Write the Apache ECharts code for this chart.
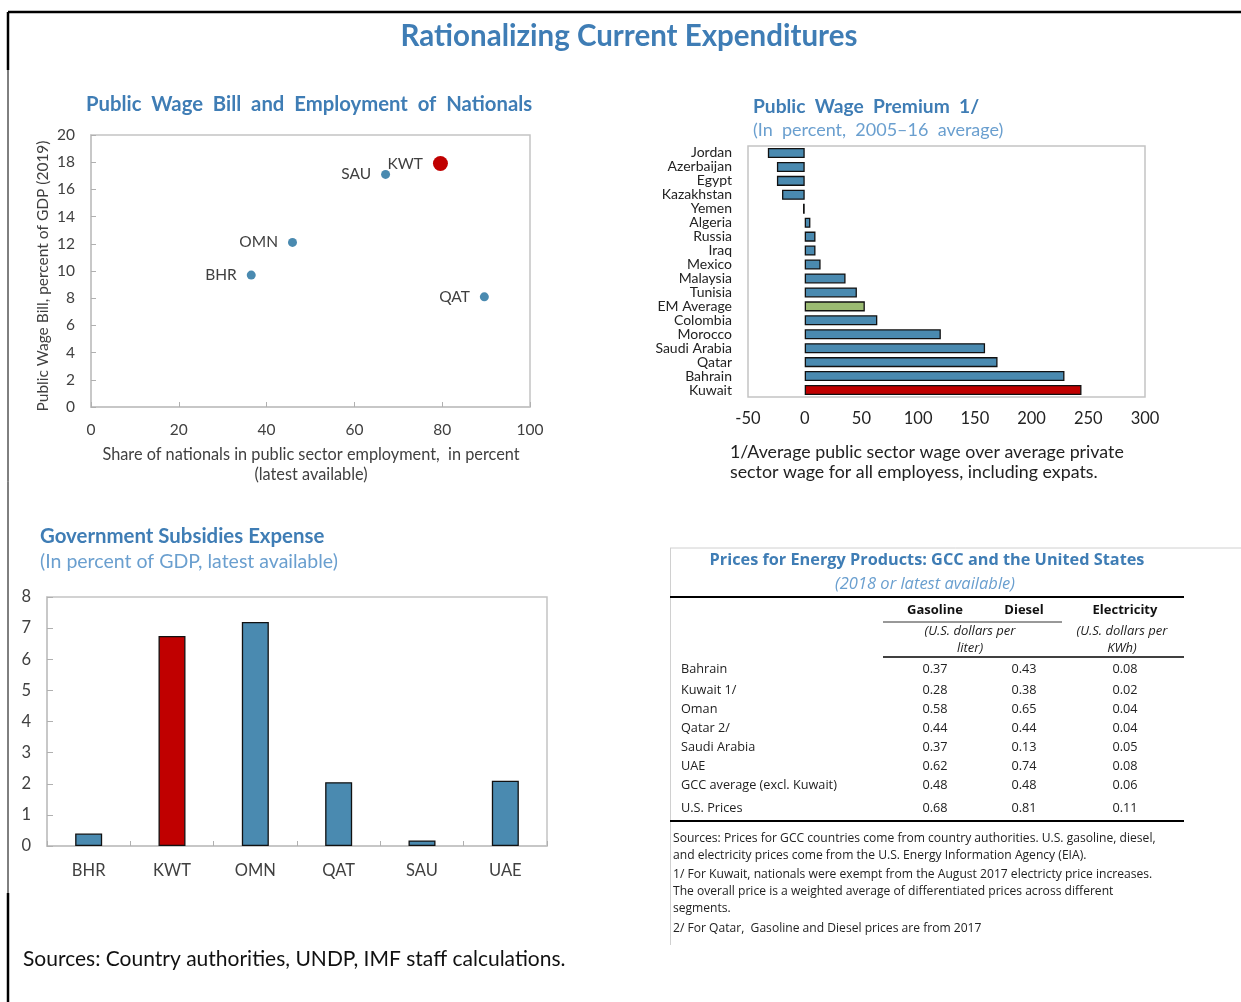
<!DOCTYPE html>
<html><head><meta charset="utf-8">
<script src="https://cdn.jsdelivr.net/npm/echarts@6/dist/echarts.min.js"></script>
<style>html,body{margin:0;padding:0;background:#fff}#c{width:1241px;height:1002px}</style>
</head><body><div id="c"></div>
<script>
// ---- Data ----
const scatterNames = ['SAU', 'KWT', 'OMN', 'BHR', 'QAT'];
const scatterX = [67.1, 79.6, 45.9, 36.5, 89.6];
const scatterY = [17.1, 17.9, 12.1, 9.7, 8.1];
const scatterXTicks = [0, 20, 40, 60, 80, 100];
const scatterYTicks = [0, 2, 4, 6, 8, 10, 12, 14, 16, 18, 20];

const premiumCountries = ['Jordan', 'Azerbaijan', 'Egypt', 'Kazakhstan', 'Yemen', 'Algeria', 'Russia', 'Iraq', 'Mexico', 'Malaysia', 'Tunisia', 'EM Average', 'Colombia', 'Morocco', 'Saudi Arabia', 'Qatar', 'Bahrain', 'Kuwait'];
const premiumValues = [-32.5, -24.5, -24.5, -20, -1.5, 5, 9.5, 9.5, 14, 36, 46, 53, 64, 120, 159, 170, 229, 244];
const premiumTicks = [-50, 0, 50, 100, 150, 200, 250, 300];

const subsidyCountries = ['BHR', 'KWT', 'OMN', 'QAT', 'SAU', 'UAE'];
const subsidyValues = [0.4, 6.75, 7.2, 2.05, 0.18, 2.1];
const subsidyTicks = [0, 1, 2, 3, 4, 5, 6, 7, 8];

const tableRowLabels = ['Bahrain', 'Kuwait 1/', 'Oman', 'Qatar 2/', 'Saudi Arabia', 'UAE', 'GCC average (excl. Kuwait)', 'U.S. Prices'];
const gasoline = ['0.37', '0.28', '0.58', '0.44', '0.37', '0.62', '0.48', '0.68'];
const diesel = ['0.43', '0.38', '0.65', '0.44', '0.13', '0.74', '0.48', '0.81'];
const electricity = ['0.08', '0.02', '0.04', '0.04', '0.05', '0.08', '0.06', '0.11'];
const tableHeaders = ['Gasoline', 'Diesel', 'Electricity'];
const tableNotes = [
  'Sources: Prices for GCC countries come from country authorities. U.S. gasoline, diesel,',
  'and electricity prices come from the U.S. Energy Information Agency (EIA).',
  '1/ For Kuwait, nationals were exempt from the August 2017 electricty price increases.',
  'The overall price is a weighted average of differentiated prices across different',
  'segments.',
  '2/ For Qatar,  Gasoline and Diesel prices are from 2017'
];

// ---- Styles ----
const BLUE = '#4a8ab0', RED = '#c00000', GREEN = '#9bbb72';
const TITLE = '#3f7db5', SUB = '#6a9fcf', TXT = '#404040';
const F = 'Lato, "Open Sans", sans-serif';
const TF = '"Open Sans", "Noto Sans", sans-serif';

const chart = echarts.init(document.getElementById('c'));

function txt(x, y, s, o) {
  return { type: 'text', x: x, y: y, style: Object.assign({ text: s, fill: TXT, font: '13px ' + F, textAlign: 'left', textVerticalAlign: 'middle' }, o || {}) };
}
function ln(x1, y1, x2, y2, w, c) {
  return { type: 'line', shape: { x1: x1, y1: y1, x2: x2, y2: y2 }, style: { stroke: c || '#000', lineWidth: w || 1 } };
}

const graphics = [];
// frame
graphics.push(ln(8, 12, 1241, 12, 2.5));
graphics.push(ln(8, 12, 8, 70, 2.5));
graphics.push(ln(8, 70, 8, 893, 1));
graphics.push(ln(8, 893, 8, 1002, 2.5));
// main title
graphics.push(txt(629, 36, 'Rationalizing Current Expenditures', { fill: TITLE, font: 'bold 29.5px ' + F, textAlign: 'center' }));
// panel titles
graphics.push(txt(86, 104, 'Public  Wage  Bill  and  Employment  of  Nationals', { fill: TITLE, font: 'bold 20.3px ' + F }));
graphics.push(txt(753, 107, 'Public  Wage  Premium  1/', { fill: TITLE, font: 'bold 19.2px ' + F }));
graphics.push(txt(753, 130, '(In  percent,  2005\u201316  average)', { fill: SUB, font: '18px ' + F }));
graphics.push(txt(40, 536, 'Government Subsidies Expense', { fill: TITLE, font: 'bold 20.4px ' + F }));
graphics.push(txt(40, 562, '(In percent of GDP, latest available)', { fill: SUB, font: '19.5px ' + F }));
// scatter axis names
graphics.push(txt(311, 455, 'Share of nationals in public sector employment,  in percent', { font: '16.3px ' + F, textAlign: 'center' }));
graphics.push(txt(311, 475, '(latest available)', { font: '16.3px ' + F, textAlign: 'center' }));
graphics.push({ type: 'text', x: 43, y: 276, rotation: Math.PI / 2, style: { text: 'Public Wage Bill, percent of GDP (2019)', fill: TXT, font: '15.5px ' + F, textAlign: 'center', textVerticalAlign: 'middle' } });
// premium footnote
graphics.push(txt(730, 452, '1/Average public sector wage over average private', { fill: '#222', font: '17.8px ' + F }));
graphics.push(txt(730, 472, 'sector wage for all employess, including expats.', { fill: '#222', font: '17.8px ' + F }));
// sources
graphics.push(txt(23, 959, 'Sources: Country authorities, UNDP, IMF staff calculations.', { fill: '#111', font: '21px ' + F }));

// ---- Table ----
const tx0 = 670, tx1 = 1184;
const colX = [935, 1024, 1125];
graphics.push(ln(tx0, 548, 1241, 548, 1, '#d0d0d0'));
graphics.push(ln(670.5, 548, 670.5, 945, 1, '#d0d0d0'));
graphics.push(txt(927, 560, 'Prices for Energy Products: GCC and the United States', { fill: TITLE, font: 'bold 16.3px ' + TF, textAlign: 'center' }));
graphics.push(txt(925, 584, '(2018 or latest available)', { fill: SUB, font: 'italic 16.5px ' + TF, textAlign: 'center' }));
graphics.push(ln(tx0, 597, tx1, 597, 2));
tableHeaders.forEach(function (h, i) {
  graphics.push(txt(colX[i], 610, h, { fill: '#111', font: 'bold 13px ' + TF, textAlign: 'center' }));
});
graphics.push(ln(883, 622, 1062, 622, 1, '#333'));
graphics.push(txt(970, 631, '(U.S. dollars per', { fill: '#222', font: 'italic 13px ' + TF, textAlign: 'center' }));
graphics.push(txt(970, 648, 'liter)', { fill: '#222', font: 'italic 13px ' + TF, textAlign: 'center' }));
graphics.push(txt(1122, 631, '(U.S. dollars per', { fill: '#222', font: 'italic 13px ' + TF, textAlign: 'center' }));
graphics.push(txt(1122, 648, 'KWh)', { fill: '#222', font: 'italic 13px ' + TF, textAlign: 'center' }));
graphics.push(ln(883, 657, tx1, 657, 1.5));
const rowY = [669, 690, 709, 728, 747, 766, 785, 808];
tableRowLabels.forEach(function (r, i) {
  graphics.push(txt(681, rowY[i], r, { fill: '#222', font: '12.7px ' + TF }));
  graphics.push(txt(colX[0], rowY[i], gasoline[i], { fill: '#222', font: '12.7px ' + TF, textAlign: 'center' }));
  graphics.push(txt(colX[1], rowY[i], diesel[i], { fill: '#222', font: '12.7px ' + TF, textAlign: 'center' }));
  graphics.push(txt(colX[2], rowY[i], electricity[i], { fill: '#222', font: '12.7px ' + TF, textAlign: 'center' }));
});
graphics.push(ln(tx0, 821, tx1, 821, 2));
const noteY = [839, 856, 875, 892, 909, 929];
tableNotes.forEach(function (n, i) {
  graphics.push(txt(673, noteY[i], n, { fill: '#222', font: '12.1px ' + TF }));
});

const gridBorder = '#c4c4c4';
const tickStyle = { lineStyle: { color: '#b0b0b0', width: 1 } };

const option = {
  animation: false,
  backgroundColor: '#fff',
  grid: [
    { left: 91, top: 135, width: 439, height: 272, show: true, borderColor: gridBorder, borderWidth: 1.5, containLabel: false },
    { left: 748, top: 146, width: 397, height: 251, show: true, borderColor: gridBorder, borderWidth: 1.5, containLabel: false },
    { left: 47, top: 597, width: 500, height: 249, show: true, borderColor: gridBorder, borderWidth: 1.5, containLabel: false }
  ],
  xAxis: [
    { gridIndex: 0, type: 'value', min: scatterXTicks[0], max: scatterXTicks[scatterXTicks.length - 1], interval: 20,
      axisLine: { show: true, lineStyle: { color: gridBorder, width: 1.5 } }, axisTick: Object.assign({ show: true, inside: true, length: 5 }, tickStyle),
      splitLine: { show: false }, axisLabel: { color: TXT, fontFamily: F, fontSize: 15.5, margin: 15 } },
    { gridIndex: 1, type: 'value', min: premiumTicks[0], max: premiumTicks[premiumTicks.length - 1], interval: 50,
      axisLine: { show: false }, axisTick: { show: false },
      splitLine: { show: false }, axisLabel: { color: '#222', fontFamily: F, fontSize: 16.5, margin: 13 } },
    { gridIndex: 2, type: 'category', data: subsidyCountries,
      axisLine: { show: true, lineStyle: { color: gridBorder, width: 1.5 } }, axisTick: Object.assign({ show: true, inside: true, length: 5 }, tickStyle),
      axisLabel: { color: TXT, fontFamily: F, fontSize: 16.5, margin: 16 } }
  ],
  yAxis: [
    { gridIndex: 0, type: 'value', min: scatterYTicks[0], max: scatterYTicks[scatterYTicks.length - 1], interval: 2,
      axisLine: { show: true, lineStyle: { color: gridBorder, width: 1.5 } }, axisTick: Object.assign({ show: true, inside: true, length: 5 }, tickStyle),
      splitLine: { show: false }, axisLabel: { color: TXT, fontFamily: F, fontSize: 15.5, margin: 16 } },
    { gridIndex: 1, type: 'category', data: premiumCountries, inverse: true,
      axisLine: { show: false }, axisTick: { show: false },
      axisLabel: { interval: 0, color: '#222', fontFamily: F, fontSize: 14, margin: 16, lineHeight: 13 } },
    { gridIndex: 2, type: 'value', min: subsidyTicks[0], max: subsidyTicks[subsidyTicks.length - 1], interval: 1,
      axisLine: { show: true, lineStyle: { color: gridBorder, width: 1.5 } }, axisTick: Object.assign({ show: true, inside: true, length: 6 }, tickStyle),
      splitLine: { show: false }, axisLabel: { color: TXT, fontFamily: F, fontSize: 16.5, margin: 16 } }
  ],
  series: [
    { type: 'scatter', xAxisIndex: 0, yAxisIndex: 0,
      data: scatterNames.map(function (n, i) {
        const isK = n === 'KWT';
        return { name: n, value: [scatterX[i], scatterY[i]], symbolSize: isK ? 15 : 9, itemStyle: { color: isK ? RED : BLUE, opacity: 1 } };
      }),
      label: { show: true, position: 'left', distance: 10, formatter: '{b}', color: TXT, fontFamily: F, fontSize: 15.5 } },
    { type: 'bar', xAxisIndex: 1, yAxisIndex: 1, barCategoryGap: '28%',
      data: premiumValues.map(function (v, i) {
        const c = premiumCountries[i] === 'Kuwait' ? RED : (premiumCountries[i] === 'EM Average' ? GREEN : BLUE);
        return { value: v, itemStyle: { color: c, borderColor: '#111', borderWidth: 1.3 } };
      }) },
    { type: 'bar', xAxisIndex: 2, yAxisIndex: 2, barWidth: 27,
      data: subsidyValues.map(function (v, i) {
        return { value: v, itemStyle: { color: subsidyCountries[i] === 'KWT' ? RED : BLUE, borderColor: '#111', borderWidth: 1.3 } };
      }) }
  ],
  graphic: graphics
};
chart.setOption(option);
</script>
</body></html>
